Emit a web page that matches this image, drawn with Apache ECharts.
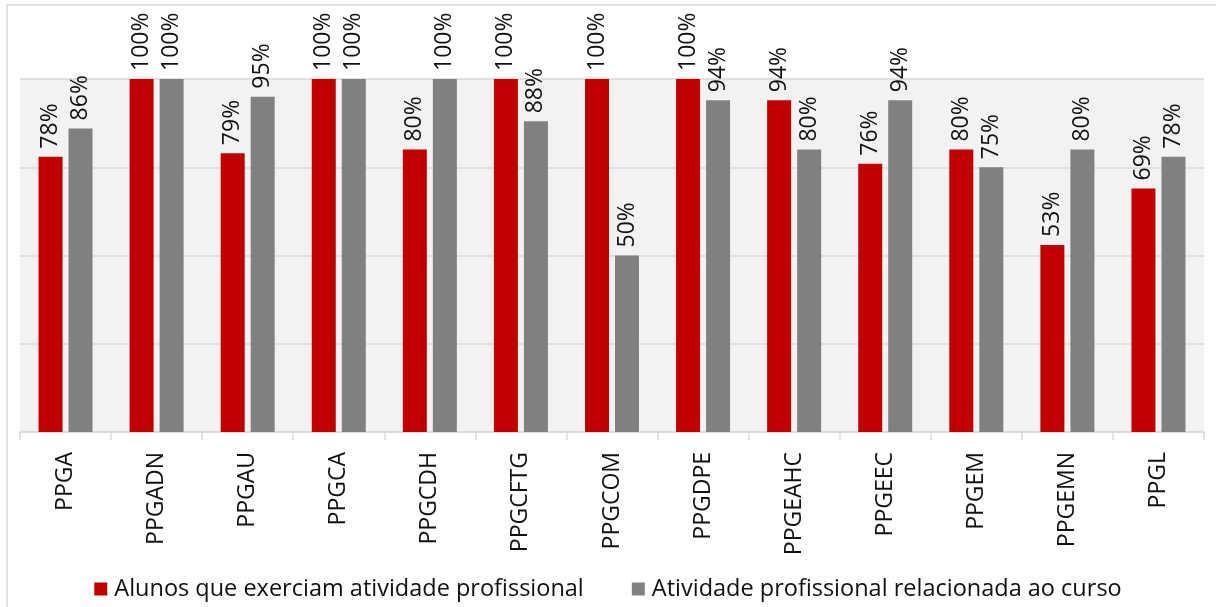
<!DOCTYPE html>
<html>
<head>
<meta charset="utf-8">
<script src="https://cdn.jsdelivr.net/npm/echarts@6/dist/echarts.min.js"></script>
<style>
html,body{margin:0;padding:0;background:#fff;}
#chart{width:1216px;height:607px;}
</style>
</head>
<body>
<div id="chart"></div>
<script>
const categories = ['PPGA','PPGADN','PPGAU','PPGCA','PPGCDH','PPGCFTG','PPGCOM','PPGDPE','PPGEAHC','PPGEEC','PPGEM','PPGEMN','PPGL'];
const seriesNames = ['Alunos que exerciam atividade profissional','Atividade profissional relacionada ao curso'];
const alunosValues = [78,100,79,100,80,100,100,100,94,76,80,53,69];
const relacionadaValues = [86,100,95,100,100,88,50,94,80,94,75,80,78];
const yTicks = [0,25,50,75,100];

const FONT = '"Open Sans", "Noto Sans", sans-serif';
const chart = echarts.init(document.getElementById('chart'), null, {renderer:'canvas'});

const barLabel = {
  show: true,
  position: 'top',
  rotate: 90,
  align: 'left',
  verticalAlign: 'middle',
  distance: 8,
  fontFamily: FONT,
  fontSize: 23,
  color: '#111',
  formatter: p => p.value + '%'
};

chart.setOption({
  animation: false,
  backgroundColor: '#ffffff',
  graphic: [{
    type: 'rect',
    shape: {x: 7, y: 5, width: 1400, height: 800},
    style: {fill: 'none', stroke: '#d9d9d9', lineWidth: 1.5},
    silent: true,
    z: -10
  }],
  grid: {
    left: 20, right: 12, top: 79, bottom: 175,
    show: true, backgroundColor: '#f2f2f2', borderWidth: 0
  },
  legend: {
    bottom: 1,
    left: 'center',
    itemWidth: 13,
    itemHeight: 13,
    itemGap: 48,
    icon: 'rect',
    textStyle: {fontFamily: FONT, fontSize: 23.5, color: '#111', padding: [0, 0, 0, 2]},
    data: seriesNames
  },
  xAxis: {
    type: 'category',
    data: categories,
    boundaryGap: true,
    axisLine: {show: true, lineStyle: {color: '#d9d9d9', width: 1.5}},
    axisTick: {show: true, length: 8, lineStyle: {color: '#d9d9d9', width: 1.5}},
    axisLabel: {rotate: 90, margin: 20, fontFamily: FONT, fontSize: 23, color: '#111', interval: 0}
  },
  yAxis: {
    type: 'value',
    min: yTicks[0],
    max: yTicks[yTicks.length - 1],
    interval: 25,
    axisLabel: {show: false},
    axisLine: {show: false},
    axisTick: {show: false},
    splitLine: {show: true, lineStyle: {color: '#d9d9d9', width: 1.5}}
  },
  series: [
    {
      name: seriesNames[0], type: 'bar', data: alunosValues,
      barWidth: 24, barGap: '25%',
      itemStyle: {color: '#c00000'},
      label: barLabel
    },
    {
      name: seriesNames[1], type: 'bar', data: relacionadaValues,
      barWidth: 24, barGap: '25%',
      itemStyle: {color: '#808080'},
      label: barLabel
    }
  ]
});
</script>
</body>
</html>
